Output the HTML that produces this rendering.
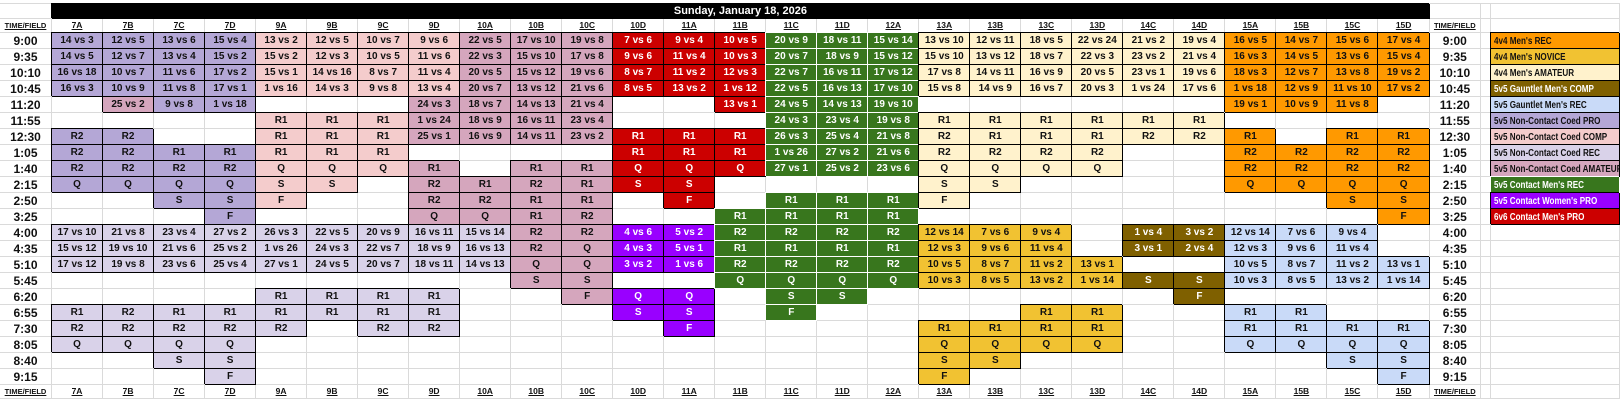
<!DOCTYPE html>
<html><head><meta charset="utf-8">
<style>
html,body{margin:0;padding:0;background:#fff;width:1620px;height:401px;overflow:hidden}
table{border-collapse:separate;border-spacing:0;table-layout:fixed;width:1620px;position:absolute;left:0;top:3px;font-family:"Liberation Sans",Arial,sans-serif;font-weight:bold;border-top:1px solid #dadada}
td{box-sizing:border-box;border-right:1px solid #dadada;border-bottom:1px solid #dadada;padding:0;text-align:center;font-size:10px;height:16px;line-height:14px;white-space:nowrap;overflow:visible;color:#111}
tr.hd td{height:15px}
tr.ch td{height:14px;font-size:8.5px;text-decoration:underline;line-height:13px}
td.t{font-size:12px}
tr.ch td.t{font-size:7.5px}
.p,.c,.r,.a,.o,.y,.cr,.b,.bl,.rd,.pu,.k{border-color:#000;box-shadow:-1px -1px 0 #000}
.g{background:#38761d;color:#fff;border-color:#fff;box-shadow:-1px -1px 0 #fff}
.p{background:#b4a7d6}.c{background:#f4cccc}.r{background:#d9d2e9}.a{background:#d5a6bd}
.o{background:#ff9900}.y{background:#f1c232}.cr{background:#fff2cc}.b{background:#7f6000;color:#fff}
.bl{background:#c9daf8}.rd{background:#cc0000;color:#fff}.pu{background:#9900ff;color:#fff}
.k{background:#000;color:#fff;font-size:11px}
td.L{text-align:left;padding-left:3px;font-size:10.5px;overflow:hidden}
td.L span{display:inline-block;transform:scaleX(0.77);transform-origin:0 50%}
</style></head><body>
<table>
<colgroup><col style="width:52px"><col span="27" style="width:51px"><col style="width:51px"><col style="width:10px"><col style="width:129px"></colgroup>
<tr class="hd"><td></td><td class="k" colspan="27">Sunday, January 18, 2026</td><td></td><td></td><td></td></tr>
<tr class="ch"><td class="t">TIME/FIELD</td><td>7A</td><td>7B</td><td>7C</td><td>7D</td><td>9A</td><td>9B</td><td>9C</td><td>9D</td><td>10A</td><td>10B</td><td>10C</td><td>10D</td><td>11A</td><td>11B</td><td>11C</td><td>11D</td><td>12A</td><td>13A</td><td>13B</td><td>13C</td><td>13D</td><td>14C</td><td>14D</td><td>15A</td><td>15B</td><td>15C</td><td>15D</td><td class="t">TIME/FIELD</td><td></td><td></td></tr>
<tr><td class="t">9:00</td><td class=p>14 vs 3</td><td class=p>12 vs 5</td><td class=p>13 vs 6</td><td class=p>15 vs 4</td><td class=c>13 vs 2</td><td class=c>12 vs 5</td><td class=c>10 vs 7</td><td class=c>9 vs 6</td><td class=a>22 vs 5</td><td class=a>17 vs 10</td><td class=a>19 vs 8</td><td class=rd>7 vs 6</td><td class=rd>9 vs 4</td><td class=rd>10 vs 5</td><td class=g>20 vs 9</td><td class=g>18 vs 11</td><td class=g>15 vs 14</td><td class=cr>13 vs 10</td><td class=cr>12 vs 11</td><td class=cr>18 vs 5</td><td class=cr>22 vs 24</td><td class=cr>21 vs 2</td><td class=cr>19 vs 4</td><td class=o>16 vs 5</td><td class=o>14 vs 7</td><td class=o>15 vs 6</td><td class=o>17 vs 4</td><td class="t">9:00</td><td></td><td class="o L"><span>4v4 Men's REC</span></td></tr>
<tr><td class="t">9:35</td><td class=p>14 vs 5</td><td class=p>12 vs 7</td><td class=p>13 vs 4</td><td class=p>15 vs 2</td><td class=c>15 vs 2</td><td class=c>12 vs 3</td><td class=c>10 vs 5</td><td class=c>11 vs 6</td><td class=a>22 vs 3</td><td class=a>15 vs 10</td><td class=a>17 vs 8</td><td class=rd>9 vs 6</td><td class=rd>11 vs 4</td><td class=rd>10 vs 3</td><td class=g>20 vs 7</td><td class=g>18 vs 9</td><td class=g>15 vs 12</td><td class=cr>15 vs 10</td><td class=cr>13 vs 12</td><td class=cr>18 vs 7</td><td class=cr>22 vs 3</td><td class=cr>23 vs 2</td><td class=cr>21 vs 4</td><td class=o>16 vs 3</td><td class=o>14 vs 5</td><td class=o>13 vs 6</td><td class=o>15 vs 4</td><td class="t">9:35</td><td></td><td class="y L"><span>4v4 Men's NOVICE</span></td></tr>
<tr><td class="t">10:10</td><td class=p>16 vs 18</td><td class=p>10 vs 7</td><td class=p>11 vs 6</td><td class=p>17 vs 2</td><td class=c>15 vs 1</td><td class=c>14 vs 16</td><td class=c>8 vs 7</td><td class=c>11 vs 4</td><td class=a>20 vs 5</td><td class=a>15 vs 12</td><td class=a>19 vs 6</td><td class=rd>8 vs 7</td><td class=rd>11 vs 2</td><td class=rd>12 vs 3</td><td class=g>22 vs 7</td><td class=g>16 vs 11</td><td class=g>17 vs 12</td><td class=cr>17 vs 8</td><td class=cr>14 vs 11</td><td class=cr>16 vs 9</td><td class=cr>20 vs 5</td><td class=cr>23 vs 1</td><td class=cr>19 vs 6</td><td class=o>18 vs 3</td><td class=o>12 vs 7</td><td class=o>13 vs 8</td><td class=o>19 vs 2</td><td class="t">10:10</td><td></td><td class="cr L"><span>4v4 Men's AMATEUR</span></td></tr>
<tr><td class="t">10:45</td><td class=p>16 vs 3</td><td class=p>10 vs 9</td><td class=p>11 vs 8</td><td class=p>17 vs 1</td><td class=c>1 vs 16</td><td class=c>14 vs 3</td><td class=c>9 vs 8</td><td class=c>13 vs 4</td><td class=a>20 vs 7</td><td class=a>13 vs 12</td><td class=a>21 vs 6</td><td class=rd>8 vs 5</td><td class=rd>13 vs 2</td><td class=rd>1 vs 12</td><td class=g>22 vs 5</td><td class=g>16 vs 13</td><td class=g>17 vs 10</td><td class=cr>15 vs 8</td><td class=cr>14 vs 9</td><td class=cr>16 vs 7</td><td class=cr>20 vs 3</td><td class=cr>1 vs 24</td><td class=cr>17 vs 6</td><td class=o>1 vs 18</td><td class=o>12 vs 9</td><td class=o>11 vs 10</td><td class=o>17 vs 2</td><td class="t">10:45</td><td></td><td class="b L"><span>5v5 Gauntlet Men's COMP</span></td></tr>
<tr><td class="t">11:20</td><td></td><td class=a>25 vs 2</td><td class=p>9 vs 8</td><td class=p>1 vs 18</td><td></td><td></td><td></td><td class=a>24 vs 3</td><td class=a>18 vs 7</td><td class=a>14 vs 13</td><td class=a>21 vs 4</td><td></td><td></td><td class=rd>13 vs 1</td><td class=g>24 vs 5</td><td class=g>14 vs 13</td><td class=g>19 vs 10</td><td></td><td></td><td></td><td></td><td></td><td></td><td class=o>19 vs 1</td><td class=o>10 vs 9</td><td class=o>11 vs 8</td><td></td><td class="t">11:20</td><td></td><td class="bl L"><span>5v5 Gauntlet Men's REC</span></td></tr>
<tr><td class="t">11:55</td><td></td><td></td><td></td><td></td><td class=c>R1</td><td class=c>R1</td><td class=c>R1</td><td class=a>1 vs 24</td><td class=a>18 vs 9</td><td class=a>16 vs 11</td><td class=a>23 vs 4</td><td></td><td></td><td></td><td class=g>24 vs 3</td><td class=g>23 vs 4</td><td class=g>19 vs 8</td><td class=cr>R1</td><td class=cr>R1</td><td class=cr>R1</td><td class=cr>R1</td><td class=cr>R1</td><td class=cr>R1</td><td></td><td></td><td></td><td></td><td class="t">11:55</td><td></td><td class="p L"><span>5v5 Non-Contact Coed PRO</span></td></tr>
<tr><td class="t">12:30</td><td class=p>R2</td><td class=p>R2</td><td></td><td></td><td class=c>R1</td><td class=c>R1</td><td class=c>R1</td><td class=a>25 vs 1</td><td class=a>16 vs 9</td><td class=a>14 vs 11</td><td class=a>23 vs 2</td><td class=rd>R1</td><td class=rd>R1</td><td class=rd>R1</td><td class=g>26 vs 3</td><td class=g>25 vs 4</td><td class=g>21 vs 8</td><td class=cr>R2</td><td class=cr>R1</td><td class=cr>R1</td><td class=cr>R1</td><td class=cr>R2</td><td class=cr>R2</td><td class=o>R1</td><td></td><td class=o>R1</td><td class=o>R1</td><td class="t">12:30</td><td></td><td class="c L"><span>5v5 Non-Contact Coed COMP</span></td></tr>
<tr><td class="t">1:05</td><td class=p>R2</td><td class=p>R2</td><td class=p>R1</td><td class=p>R1</td><td class=c>R1</td><td class=c>R1</td><td class=c>R1</td><td></td><td></td><td></td><td></td><td class=rd>R1</td><td class=rd>R1</td><td class=rd>R1</td><td class=g>1 vs 26</td><td class=g>27 vs 2</td><td class=g>21 vs 6</td><td class=cr>R2</td><td class=cr>R2</td><td class=cr>R2</td><td class=cr>R2</td><td></td><td></td><td class=o>R2</td><td class=o>R2</td><td class=o>R2</td><td class=o>R2</td><td class="t">1:05</td><td></td><td class="r L"><span>5v5 Non-Contact Coed REC</span></td></tr>
<tr><td class="t">1:40</td><td class=p>R2</td><td class=p>R2</td><td class=p>R2</td><td class=p>R2</td><td class=c>Q</td><td class=c>Q</td><td class=c>Q</td><td class=a>R1</td><td></td><td class=a>R1</td><td class=a>R1</td><td class=rd>Q</td><td class=rd>Q</td><td class=rd>Q</td><td class=g>27 vs 1</td><td class=g>25 vs 2</td><td class=g>23 vs 6</td><td class=cr>Q</td><td class=cr>Q</td><td class=cr>Q</td><td class=cr>Q</td><td></td><td></td><td class=o>R2</td><td class=o>R2</td><td class=o>R2</td><td class=o>R2</td><td class="t">1:40</td><td></td><td class="a L"><span>5v5 Non-Contact Coed AMATEUR</span></td></tr>
<tr><td class="t">2:15</td><td class=p>Q</td><td class=p>Q</td><td class=p>Q</td><td class=p>Q</td><td class=c>S</td><td class=c>S</td><td></td><td class=a>R2</td><td class=a>R1</td><td class=a>R2</td><td class=a>R1</td><td class=rd>S</td><td class=rd>S</td><td></td><td></td><td></td><td></td><td class=cr>S</td><td class=cr>S</td><td></td><td></td><td></td><td></td><td class=o>Q</td><td class=o>Q</td><td class=o>Q</td><td class=o>Q</td><td class="t">2:15</td><td></td><td class="g L"><span>5v5 Contact Men's REC</span></td></tr>
<tr><td class="t">2:50</td><td></td><td></td><td class=p>S</td><td class=p>S</td><td class=c>F</td><td></td><td></td><td class=a>R2</td><td class=a>R2</td><td class=a>R1</td><td class=a>R1</td><td></td><td class=rd>F</td><td></td><td class=g>R1</td><td class=g>R1</td><td class=g>R1</td><td class=cr>F</td><td></td><td></td><td></td><td></td><td></td><td></td><td></td><td class=o>S</td><td class=o>S</td><td class="t">2:50</td><td></td><td class="pu L"><span>5v5 Contact Women's PRO</span></td></tr>
<tr><td class="t">3:25</td><td></td><td></td><td></td><td class=p>F</td><td></td><td></td><td></td><td class=a>Q</td><td class=a>Q</td><td class=a>R1</td><td class=a>R2</td><td></td><td></td><td class=g>R1</td><td class=g>R1</td><td class=g>R1</td><td class=g>R1</td><td></td><td></td><td></td><td></td><td></td><td></td><td></td><td></td><td></td><td class=o>F</td><td class="t">3:25</td><td></td><td class="rd L"><span>6v6 Contact Men's PRO</span></td></tr>
<tr><td class="t">4:00</td><td class=r>17 vs 10</td><td class=r>21 vs 8</td><td class=r>23 vs 4</td><td class=r>27 vs 2</td><td class=r>26 vs 3</td><td class=r>22 vs 5</td><td class=r>20 vs 9</td><td class=r>16 vs 11</td><td class=r>15 vs 14</td><td class=a>R2</td><td class=a>R2</td><td class=pu>4 vs 6</td><td class=pu>5 vs 2</td><td class=g>R2</td><td class=g>R2</td><td class=g>R2</td><td class=g>R2</td><td class=y>12 vs 14</td><td class=y>7 vs 6</td><td class=y>9 vs 4</td><td></td><td class=b>1 vs 4</td><td class=b>3 vs 2</td><td class=bl>12 vs 14</td><td class=bl>7 vs 6</td><td class=bl>9 vs 4</td><td></td><td class="t">4:00</td><td></td><td></td></tr>
<tr><td class="t">4:35</td><td class=r>15 vs 12</td><td class=r>19 vs 10</td><td class=r>21 vs 6</td><td class=r>25 vs 2</td><td class=r>1 vs 26</td><td class=r>24 vs 3</td><td class=r>22 vs 7</td><td class=r>18 vs 9</td><td class=r>16 vs 13</td><td class=a>R2</td><td class=a>Q</td><td class=pu>4 vs 3</td><td class=pu>5 vs 1</td><td class=g>R1</td><td class=g>R1</td><td class=g>R1</td><td class=g>R1</td><td class=y>12 vs 3</td><td class=y>9 vs 6</td><td class=y>11 vs 4</td><td></td><td class=b>3 vs 1</td><td class=b>2 vs 4</td><td class=bl>12 vs 3</td><td class=bl>9 vs 6</td><td class=bl>11 vs 4</td><td></td><td class="t">4:35</td><td></td><td></td></tr>
<tr><td class="t">5:10</td><td class=r>17 vs 12</td><td class=r>19 vs 8</td><td class=r>23 vs 6</td><td class=r>25 vs 4</td><td class=r>27 vs 1</td><td class=r>24 vs 5</td><td class=r>20 vs 7</td><td class=r>18 vs 11</td><td class=r>14 vs 13</td><td class=a>Q</td><td class=a>Q</td><td class=pu>3 vs 2</td><td class=pu>1 vs 6</td><td class=g>R2</td><td class=g>R2</td><td class=g>R2</td><td class=g>R2</td><td class=y>10 vs 5</td><td class=y>8 vs 7</td><td class=y>11 vs 2</td><td class=y>13 vs 1</td><td></td><td></td><td class=bl>10 vs 5</td><td class=bl>8 vs 7</td><td class=bl>11 vs 2</td><td class=bl>13 vs 1</td><td class="t">5:10</td><td></td><td></td></tr>
<tr><td class="t">5:45</td><td></td><td></td><td></td><td></td><td></td><td></td><td></td><td></td><td></td><td class=a>S</td><td class=a>S</td><td></td><td></td><td class=g>Q</td><td class=g>Q</td><td class=g>Q</td><td class=g>Q</td><td class=y>10 vs 3</td><td class=y>8 vs 5</td><td class=y>13 vs 2</td><td class=y>1 vs 14</td><td class=b>S</td><td class=b>S</td><td class=bl>10 vs 3</td><td class=bl>8 vs 5</td><td class=bl>13 vs 2</td><td class=bl>1 vs 14</td><td class="t">5:45</td><td></td><td></td></tr>
<tr><td class="t">6:20</td><td></td><td></td><td></td><td></td><td class=r>R1</td><td class=r>R1</td><td class=r>R1</td><td class=r>R1</td><td></td><td></td><td class=a>F</td><td class=pu>Q</td><td class=pu>Q</td><td></td><td class=g>S</td><td class=g>S</td><td></td><td></td><td></td><td></td><td></td><td></td><td class=b>F</td><td></td><td></td><td></td><td></td><td class="t">6:20</td><td></td><td></td></tr>
<tr><td class="t">6:55</td><td class=r>R1</td><td class=r>R2</td><td class=r>R1</td><td class=r>R1</td><td class=r>R1</td><td class=r>R1</td><td class=r>R1</td><td class=r>R1</td><td></td><td></td><td></td><td class=pu>S</td><td class=pu>S</td><td></td><td class=g>F</td><td></td><td></td><td></td><td></td><td class=y>R1</td><td class=y>R1</td><td></td><td></td><td class=bl>R1</td><td class=bl>R1</td><td></td><td></td><td class="t">6:55</td><td></td><td></td></tr>
<tr><td class="t">7:30</td><td class=r>R2</td><td class=r>R2</td><td class=r>R2</td><td class=r>R2</td><td class=r>R2</td><td></td><td class=r>R2</td><td class=r>R2</td><td></td><td></td><td></td><td></td><td class=pu>F</td><td></td><td></td><td></td><td></td><td class=y>R1</td><td class=y>R1</td><td class=y>R1</td><td class=y>R1</td><td></td><td></td><td class=bl>R1</td><td class=bl>R1</td><td class=bl>R1</td><td class=bl>R1</td><td class="t">7:30</td><td></td><td></td></tr>
<tr><td class="t">8:05</td><td class=r>Q</td><td class=r>Q</td><td class=r>Q</td><td class=r>Q</td><td></td><td></td><td></td><td></td><td></td><td></td><td></td><td></td><td></td><td></td><td></td><td></td><td></td><td class=y>Q</td><td class=y>Q</td><td class=y>Q</td><td class=y>Q</td><td></td><td></td><td class=bl>Q</td><td class=bl>Q</td><td class=bl>Q</td><td class=bl>Q</td><td class="t">8:05</td><td></td><td></td></tr>
<tr><td class="t">8:40</td><td></td><td></td><td class=r>S</td><td class=r>S</td><td></td><td></td><td></td><td></td><td></td><td></td><td></td><td></td><td></td><td></td><td></td><td></td><td></td><td class=y>S</td><td class=y>S</td><td></td><td></td><td></td><td></td><td></td><td></td><td class=bl>S</td><td class=bl>S</td><td class="t">8:40</td><td></td><td></td></tr>
<tr><td class="t">9:15</td><td></td><td></td><td></td><td class=r>F</td><td></td><td></td><td></td><td></td><td></td><td></td><td></td><td></td><td></td><td></td><td></td><td></td><td></td><td class=y>F</td><td></td><td></td><td></td><td></td><td></td><td></td><td></td><td></td><td class=bl>F</td><td class="t">9:15</td><td></td><td></td></tr>
<tr class="ch"><td class="t">TIME/FIELD</td><td>7A</td><td>7B</td><td>7C</td><td>7D</td><td>9A</td><td>9B</td><td>9C</td><td>9D</td><td>10A</td><td>10B</td><td>10C</td><td>10D</td><td>11A</td><td>11B</td><td>11C</td><td>11D</td><td>12A</td><td>13A</td><td>13B</td><td>13C</td><td>13D</td><td>14C</td><td>14D</td><td>15A</td><td>15B</td><td>15C</td><td>15D</td><td class="t">TIME/FIELD</td><td></td><td></td></tr>
</table>
</body></html>
